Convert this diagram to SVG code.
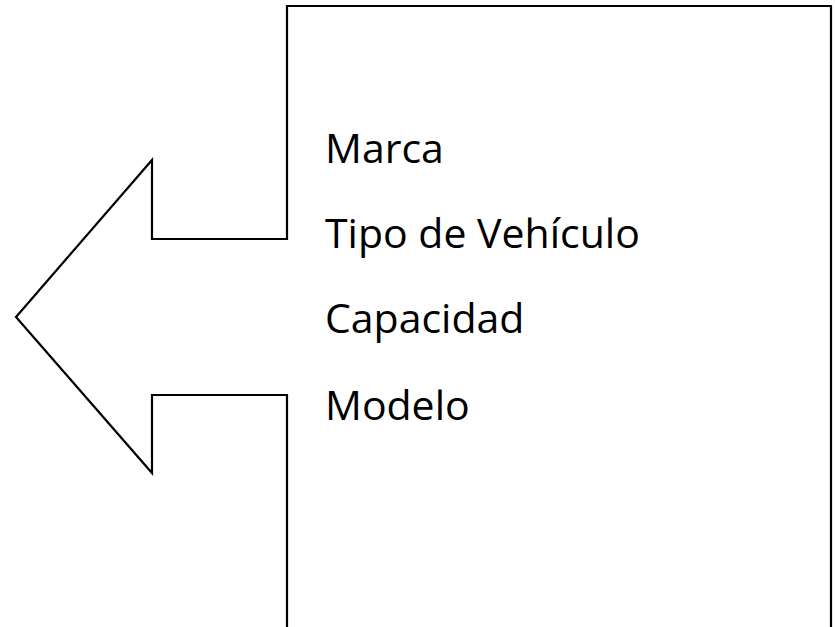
<svg xmlns="http://www.w3.org/2000/svg" width="835" height="627" viewBox="0 0 835 627">
<style>
.shape{fill:#fff;stroke:#000;stroke-width:2.2;stroke-linejoin:miter}
.t{font-family:"Open Sans","Noto Sans","Liberation Sans",sans-serif;font-size:41px;fill:#000}
</style>
<rect width="835" height="627" fill="#fff"/>
<g id="callout">
<path class="shape" d="M287,6 L831,6 L831,640 L287,640 L287,395 L152,395 L152,473 L16,317 L152,160 L152,239 L287,239 Z"/>
</g>
<g id="labels">
<text class="t" x="325" y="163">Marca</text>
<text class="t" x="325" y="248">Tipo de Vehículo</text>
<text class="t" x="325" y="333">Capacidad</text>
<text class="t" x="325" y="420">Modelo</text>
</g>
</svg>
